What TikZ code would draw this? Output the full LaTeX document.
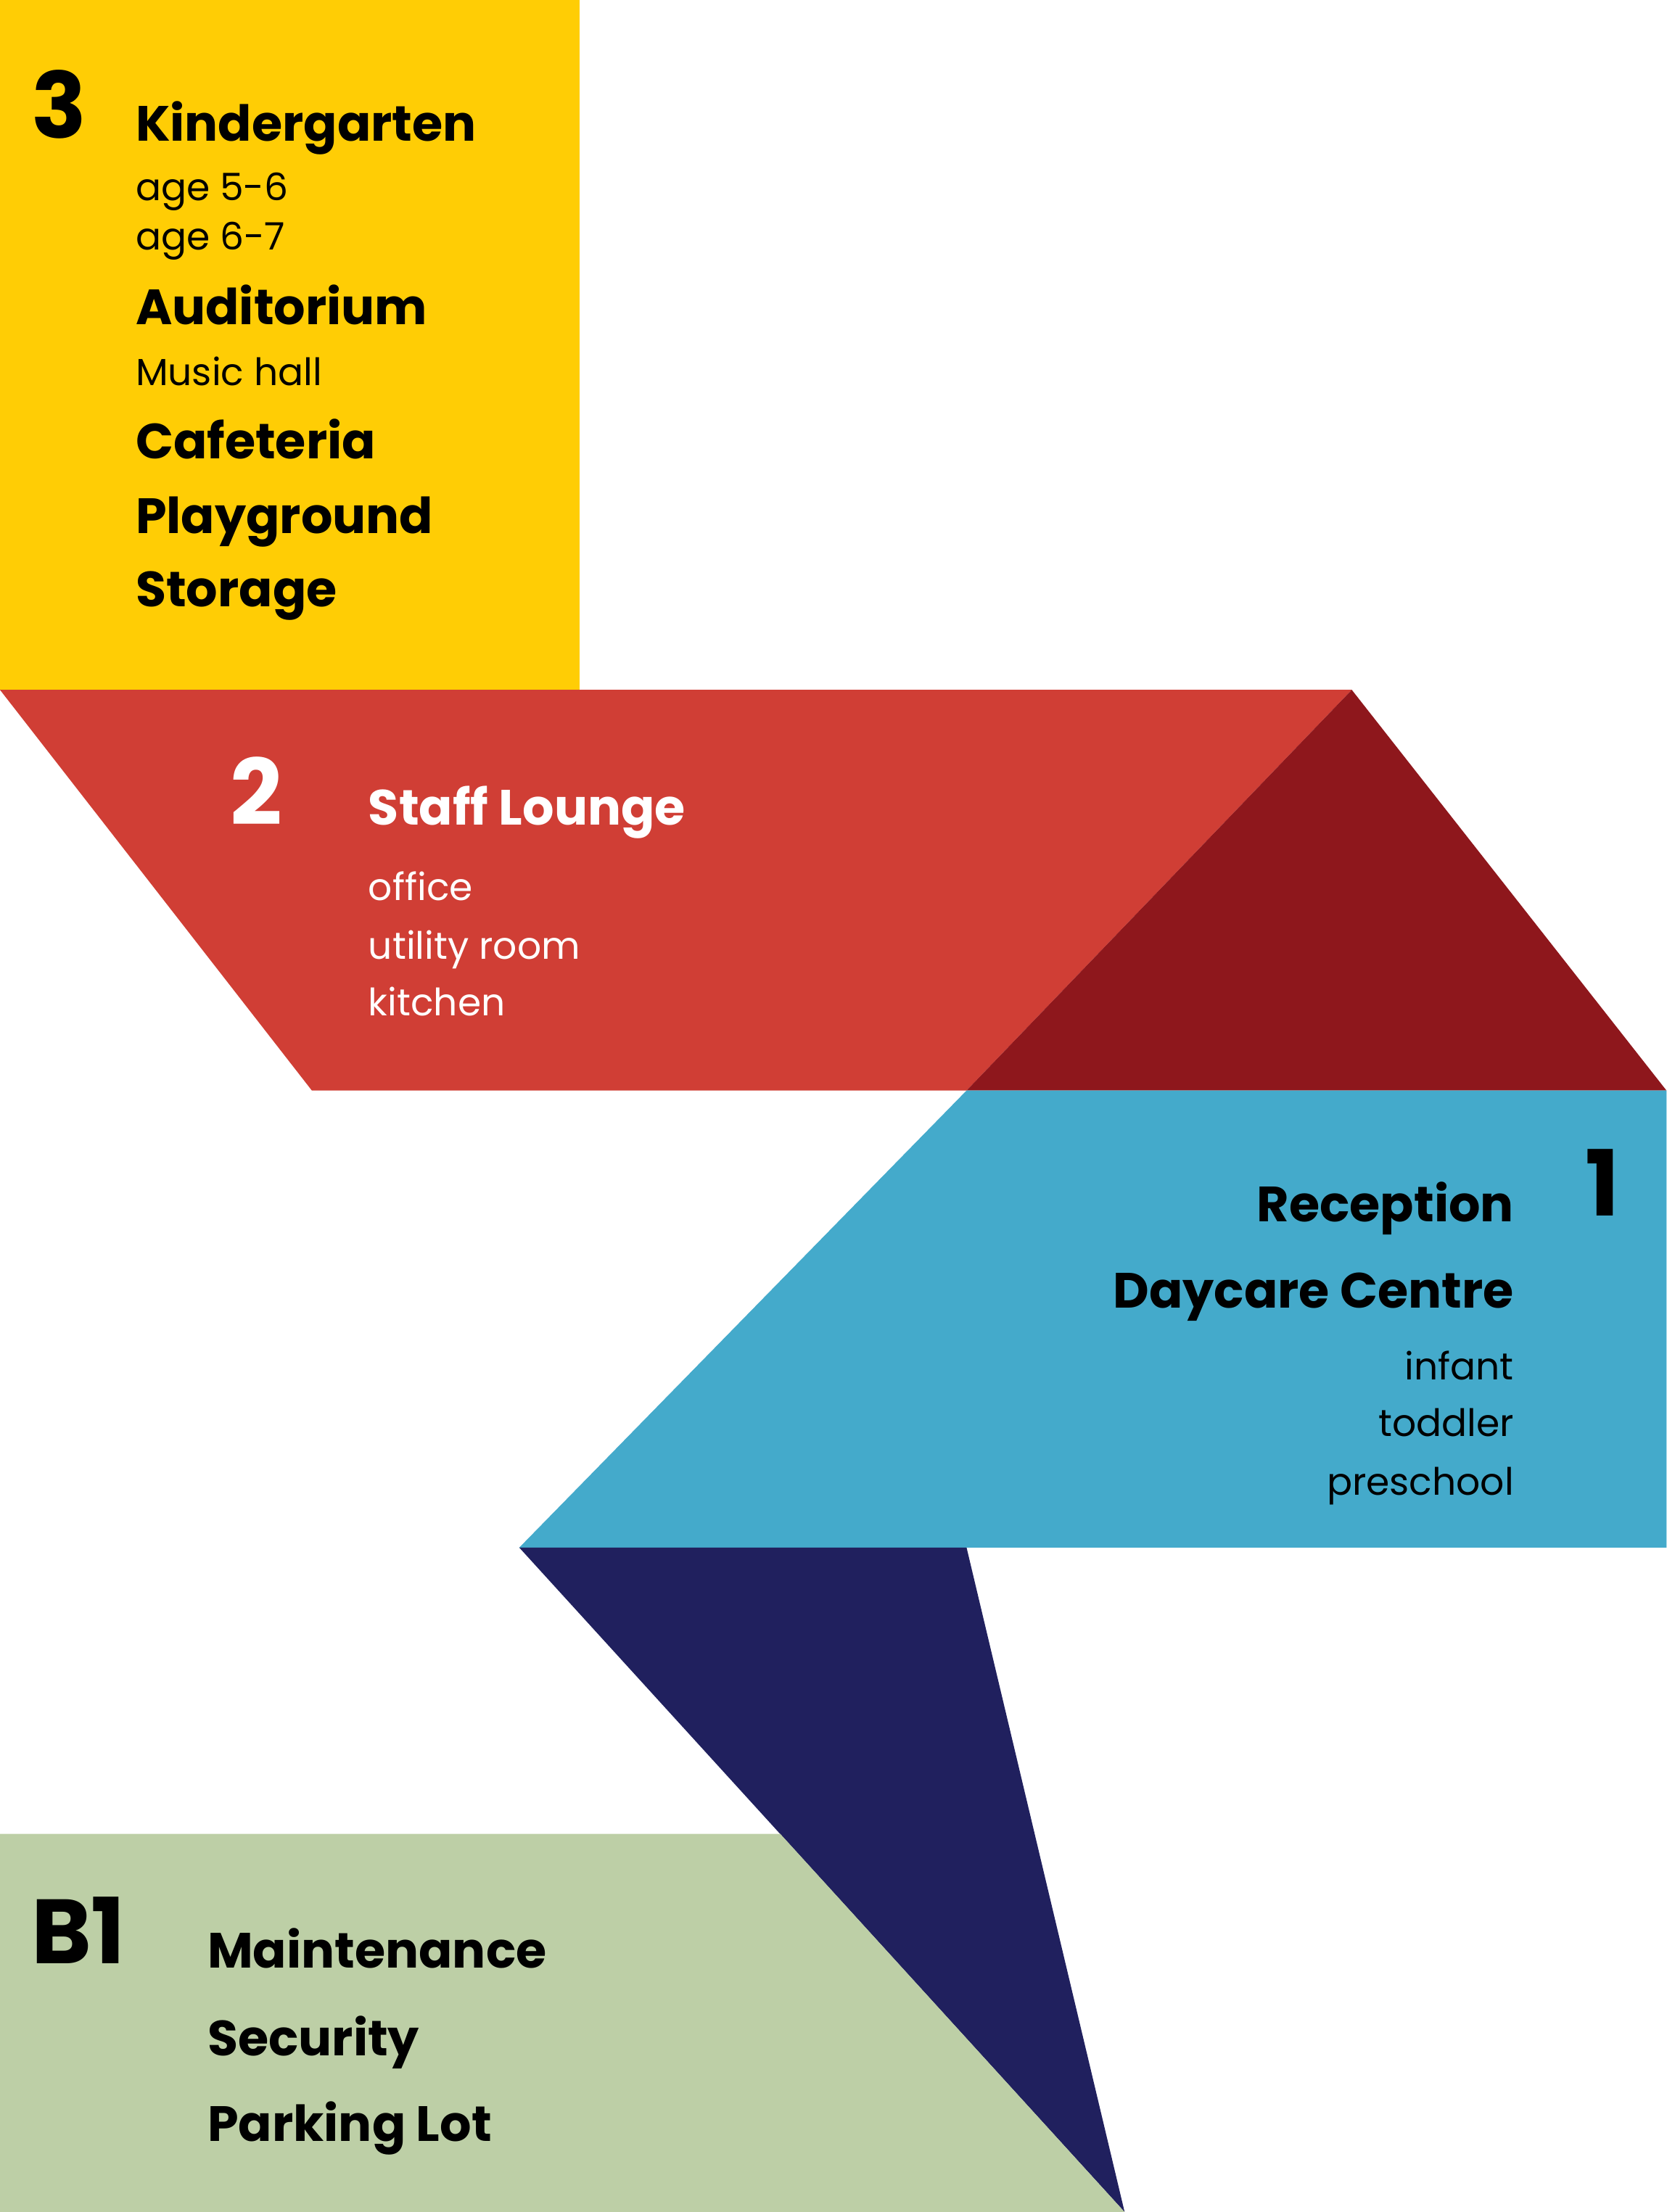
\documentclass[tikz,border=0pt]{standalone}
\usepackage{fontspec}
\setmainfont{Poppins}
\definecolor{kYellow}{HTML}{FFCD05}
\definecolor{kRed}{HTML}{D03E35}
\definecolor{kDarkRed}{HTML}{8E171C}
\definecolor{kBlue}{HTML}{44AACB}
\definecolor{kNavy}{HTML}{20205E}
\definecolor{kGreen}{HTML}{BDCFA6}
\begin{document}
\begin{tikzpicture}[x=0.05cm, y=-0.05cm]
		\tikzset{head/.style={anchor=base west, inner sep=0pt, font=\fontsize{50}{50}\selectfont\bfseries}};
		\tikzset{sub/.style={anchor=base west, inner sep=0pt, font=\fontsize{38}{38}\selectfont}};
		\tikzset{num/.style={anchor=base west, inner sep=0pt, font=\fontsize{92}{92}\selectfont\bfseries}};

		\useasboundingbox (0,0) rectangle (1181,1568);

		% floors
		\fill[kYellow] (0,0) rectangle (411,489);
		\fill[kRed] (0,489) -- (958,489) -- (685,773) -- (221,773) -- cycle;
		\fill[kDarkRed] (958,489) -- (1181,773) -- (685,773) -- cycle;
		\fill[kBlue] (685,773) -- (1181,773) -- (1181,1097) -- (368,1097) -- cycle;
		\fill[kNavy] (368,1097) -- (685,1097) -- (797,1568) -- cycle;
		\fill[kGreen] (0,1300) -- (553,1300) -- (797,1568) -- (0,1568) -- cycle;

		% floor 3
		\node[num] (n3) at (22,98) {3};
		\node[head] (kinder) at (96,100) {Kindergarten};
		\node[sub] (age1) at (96,142) {age 5-6};
		\node[sub] (age2) at (96,177) {age 6-7};
		\node[head] (audi) at (96,230) {Auditorium};
		\node[sub] (music) at (96,273) {Music hall};
		\node[head] (cafe) at (96,325) {Cafeteria};
		\node[head] (play) at (96,378) {Playground};
		\node[head] (stor) at (96,430) {Storage};

		% floor 2
		\node[num, white] (n2) at (163,585) {2};
		\node[head, white] (staff) at (261,585) {Staff Lounge};
		\node[sub, white] (office) at (261,638) {office};
		\node[sub, white] (util) at (261,680) {utility room};
		\node[sub, white] (kitch) at (261,720) {kitchen};

		% floor 1
		\node[num, anchor=base east] (n1) at (1148,862) {1};
		\node[head, anchor=base east] (recep) at (1073,866) {Reception};
		\node[head, anchor=base east] (day) at (1073,927) {Daycare Centre};
		\node[sub, anchor=base east] (inf) at (1073,978) {infant};
		\node[sub, anchor=base east] (todd) at (1073,1018) {toddler};
		\node[sub, anchor=base east] (pre) at (1073,1060) {preschool};

		% basement
		\node[num] (nb) at (22,1392) {B1};
		\node[head] (maint) at (147,1395) {Maintenance};
		\node[head] (secur) at (147,1457) {Security};
		\node[head] (park) at (147,1518) {Parking Lot};
	\end{tikzpicture}
\end{document}
